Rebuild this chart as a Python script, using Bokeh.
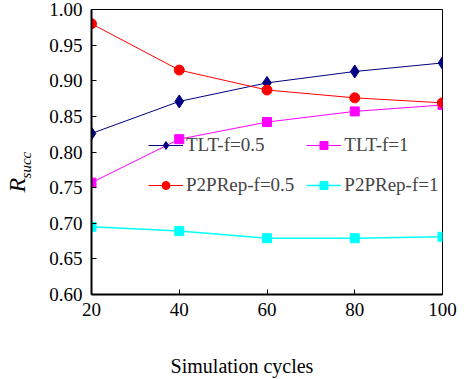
from bokeh.plotting import figure
from bokeh.models import FixedTicker, Legend, LegendItem, Range1d, Title
from bokeh.embed import file_html
from bokeh.resources import INLINE

cycles = [20, 40, 60, 80, 100]
tlt_f05 = [0.826, 0.871, 0.897, 0.913, 0.925]
tlt_f1 = [0.757, 0.818, 0.842, 0.857, 0.866]
p2p_f05 = [0.980, 0.915, 0.887, 0.876, 0.869]
p2p_f1 = [0.695, 0.689, 0.679, 0.679, 0.681]
y_ticks = [0.60, 0.65, 0.70, 0.75, 0.80, 0.85, 0.90, 0.95, 1.00]
x_ticks = [20, 40, 60, 80, 100]

FONT = "Liberation Serif"
NB = "\u00a0"

p = figure(width=465, height=379, output_backend="svg", toolbar_location=None,
           x_range=Range1d(20, 100), y_range=Range1d(0.60, 1.00),
           min_border_left=91, min_border_right=23, min_border_top=9, min_border_bottom=85)
p.background_fill_color = "white"
p.border_fill_color = "white"
p.grid.visible = False
p.outline_line_color = "black"
p.outline_line_width = 1

for ax in (p.xaxis[0], p.yaxis[0]):
    ax.axis_line_width = 2
    ax.axis_line_color = "black"
    ax.major_tick_in = 5
    ax.major_tick_out = 0
    ax.minor_tick_line_color = None
    ax.major_tick_line_color = "black"
    ax.major_label_text_font = FONT
    ax.major_label_text_font_size = "19px"
    ax.major_label_text_color = "black"
    ax.axis_label_text_font = FONT
    ax.axis_label_text_color = "black"

p.xaxis[0].ticker = FixedTicker(ticks=x_ticks)
p.yaxis[0].ticker = FixedTicker(ticks=y_ticks)
p.yaxis[0].major_label_overrides = {t: f"{t:.2f}" for t in y_ticks}
p.xaxis[0].major_label_standoff = 8
p.yaxis[0].major_label_standoff = 9

# x title, shifted left of the frame centre as in the reference
p.xaxis[0].axis_label = "Simulation cycles" + NB * 10
p.xaxis[0].axis_label_text_font_size = "20px"
p.xaxis[0].axis_label_text_font_style = "normal"
p.xaxis[0].axis_label_standoff = 36

# y title: subscript as the axis label, main letter as a side title
p.yaxis[0].axis_label = "succ" + NB * 7
p.yaxis[0].axis_label_text_font_size = "15px"
p.yaxis[0].axis_label_text_font_style = "italic"
p.yaxis[0].axis_label_standoff = 12

t_main = Title(text="R", align="left", offset=102, standoff=-28,
               text_font=FONT, text_font_style="italic", text_font_size="24px",
               text_color="black")
p.add_layout(t_main, "left")

r1l = p.line(cycles, tlt_f05, line_color="#000080", line_width=1)
r1m = p.scatter(cycles, tlt_f05, marker="diamond", size=13, fill_color="#000080", line_color="#000080")
r2l = p.line(cycles, tlt_f1, line_color="#FF00FF", line_width=1)
r2m = p.scatter(cycles, tlt_f1, marker="square", size=9, fill_color="#FF00FF", line_color="#FF00FF")
r3l = p.line(cycles, p2p_f05, line_color="#FF0000", line_width=1)
r3m = p.scatter(cycles, p2p_f05, marker="circle", size=10, fill_color="#FF0000", line_color="#FF0000")
r4l = p.line(cycles, p2p_f1, line_color="#00FFFF", line_width=1.5)
r4m = p.scatter(cycles, p2p_f1, marker="square", size=9, fill_color="#00FFFF", line_color="#00FFFF")

legend = Legend(items=[
    LegendItem(label="TLT-f=0.5", renderers=[r1l, r1m]),
    LegendItem(label="P2PRep-f=0.5", renderers=[r3l, r3m]),
    LegendItem(label="TLT-f=1", renderers=[r2l, r2m]),
    LegendItem(label="P2PRep-f=1", renderers=[r4l, r4m]),
], ncols=2, location=(57, 95), padding=0, margin=0, spacing=12,
    glyph_width=35, glyph_height=20, label_standoff=3, label_height=28,
    label_text_font=FONT, label_text_font_size="19px",
    background_fill_alpha=0, border_line_color=None)
p.add_layout(legend)

open("out.html", "w").write(file_html(p, INLINE))
